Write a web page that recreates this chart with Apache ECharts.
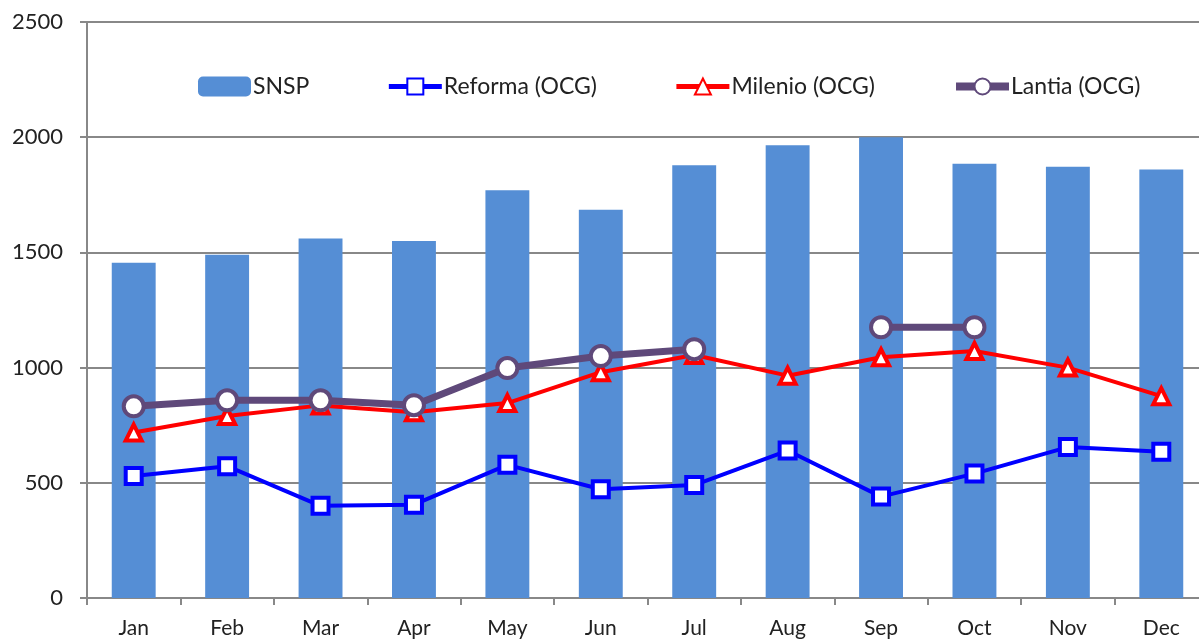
<!DOCTYPE html>
<html>
<head>
<meta charset="utf-8">
<script src="https://cdn.jsdelivr.net/npm/echarts@6/dist/echarts.min.js"></script>
<style>
  html, body { margin: 0; padding: 0; background: #fff; overflow: hidden; }
  #chart { width: 1208px; height: 644px; }
</style>
</head>
<body>
<div id="chart"></div>
<script>
const months = ['Jan', 'Feb', 'Mar', 'Apr', 'May', 'Jun', 'Jul', 'Aug', 'Sep', 'Oct', 'Nov', 'Dec']
const snsp = [1455, 1490, 1560, 1550, 1770, 1685, 1878, 1965, 2000, 1885, 1872, 1860]
const reforma = [530, 572, 400, 405, 578, 472, 490, 640, 440, 540, 655, 635]
const milenio = [718, 790, 836, 806, 846, 980, 1055, 965, 1045, 1072, 1000, 876]
const lantia = [832, 858, 858, 837, 998, 1050, 1080, null, 1175, 1175, null, null]

const chart = echarts.init(document.getElementById('chart'))

const font = 'Lato, "Open Sans", sans-serif'

let option = {
  animation: false,
  legend: {
    top: 70,
    left: 193,
    itemGap: 77,
    itemWidth: 53,
    itemHeight: 20,
    textStyle: {
      fontFamily: font,
      fontSize: 23,
      color: '#222',
      padding: [0, 0, 0, -3]
    },
    data: [
      { name: 'SNSP' },
      { name: 'Reforma (OCG)', lineStyle: { width: 5 } },
      { name: 'Milenio (OCG)', lineStyle: { width: 5 } },
      { name: 'Lantia (OCG)', lineStyle: { width: 8 } }
    ]
  },
  grid: {
    left: 87,
    top: 22,
    right: 0,
    bottom: 46
  },
  xAxis: {
    type: 'category',
    data: months,
    axisLine: { lineStyle: { color: '#888', width: 2 } },
    axisTick: { show: true, length: 7, lineStyle: { color: '#888', width: 2 } },
    axisLabel: {
      fontFamily: font,
      fontSize: 21,
      color: '#222',
      margin: 20
    }
  },
  yAxis: {
    type: 'value',
    min: 0,
    max: 2500,
    interval: 500,
    axisLine: { show: true, lineStyle: { color: '#888', width: 2 } },
    axisTick: { show: true, length: 7, lineStyle: { color: '#888', width: 2 } },
    axisLabel: {
      fontFamily: font,
      fontSize: 22,
      color: '#222',
      margin: 24,
      formatter: (v) => String(v)
    },
    splitLine: {
      lineStyle: { color: '#888', width: 2 }
    }
  },
  series: [
    {
      name: 'SNSP',
      type: 'bar',
      barWidth: '47%',
      itemStyle: { color: '#558ed5' },
      data: snsp
    },
    {
      name: 'Reforma (OCG)',
      type: 'line',
      data: reforma,
      symbol: 'rect',
      symbolSize: 16,
      lineStyle: { color: '#0000ff', width: 4 },
      itemStyle: { color: '#fff', borderColor: '#0000ff', borderWidth: 4 }
    },
    {
      name: 'Milenio (OCG)',
      type: 'line',
      data: milenio,
      symbol: 'triangle',
      symbolSize: 16,
      lineStyle: { color: '#ff0000', width: 4 },
      itemStyle: { color: '#fff', borderColor: '#ff0000', borderWidth: 4 }
    },
    {
      name: 'Lantia (OCG)',
      type: 'line',
      data: lantia,
      connectNulls: false,
      symbol: 'circle',
      symbolSize: 20,
      lineStyle: { color: '#5f497a', width: 7 },
      itemStyle: { color: '#fff', borderColor: '#5f497a', borderWidth: 4 }
    }
  ]
}
option && chart.setOption(option)
</script>
</body>
</html>
